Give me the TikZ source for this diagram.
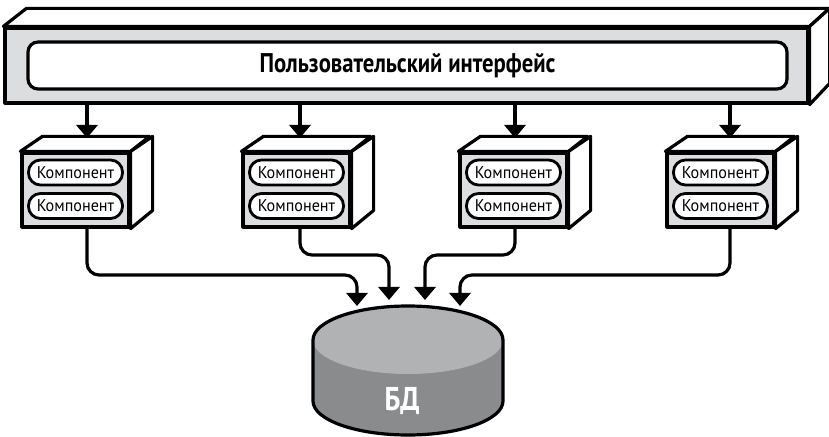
\documentclass[tikz,border=0pt]{standalone}
\usepackage{fontspec}
\newfontfamily\condfont[FakeStretch=0.84]{PT Sans}
\newfontfamily\compfont[FakeStretch=0.95]{PT Sans}
\usetikzlibrary{arrows.meta,calc}
\definecolor{facegrey}{HTML}{DCDDDF}
\definecolor{dbtop}{HTML}{B1B2B4}
\definecolor{dbbody}{HTML}{8A8B8D}
\begin{document}
\begin{tikzpicture}[x=1bp,y=-1bp,
  line join=round,
  edge/.style={line width=3.2bp},
  face/.style={draw=black,line width=3.2bp,fill=white},
  frontface/.style={draw=black,line width=3.2bp,fill=facegrey,inner sep=0pt},
  uibox/.style={draw=black,line width=3.2bp,fill=white,rounded corners=10bp,
     minimum width=759bp,minimum height=47bp,inner sep=0pt,
     font=\condfont\bfseries\fontsize{27bp}{31bp}\selectfont},
  pill/.style={draw=black,line width=2.8bp,fill=white,rounded corners=12bp,
     minimum width=94bp,minimum height=25bp,inner sep=0pt,
     font=\compfont\fontsize{17bp}{20bp}\selectfont},
  compbox/.style={frontface,minimum width=107bp,minimum height=74bp},
  arr/.style={line width=3.2bp,-{Triangle[width=21bp,length=13bp]}},
  link/.style={arr,rounded corners=12bp}
]
\useasboundingbox (0,0) rectangle (829,437);

% ---------- top bar ----------
\node[frontface,minimum width=803bp,minimum height=75bp] (bar) at (406.5,65.5) {};
\draw[face] (bar.north west) -- ++(23,-18) -- ++(803,0) -- (bar.north east) -- cycle;
\draw[face] (bar.north east) -- ++(20,-18) -- ++(0,75) -- (bar.south east) -- cycle;
\node[uibox] (ui) at (407.5,65.5) {Пользовательский интерфейс};

% ---------- component boxes ----------
\foreach \i/\L/\A in {1/22/87,2/243/300,3/460/515,4/667/730}{
  \node[compbox] (b\i) at (\L+53.5,190) {};
  \draw[face] (b\i.north west) -- ++(22,-15) -- ++(107,0) -- (b\i.north east) -- cycle;
  \draw[face] (b\i.north east) -- ++(22,-15) -- ++(0,74) -- (b\i.south east) -- cycle;
  \node[pill] (p\i a) at (\L+53.5,172.5) {Компонент};
  \node[pill] (p\i b) at (\L+53.5,206) {Компонент};
  \coordinate (t\i) at (\A,138);
  \draw[arr] (bar.south -| t\i) -- (t\i);
}

% ---------- database ----------
\fill[dbbody] (313,340) -- (313,401) arc[start angle=180,end angle=0,x radius=95,y radius=34] -- (503,340) -- cycle;
\fill[dbtop] (408,340) ellipse[x radius=95,y radius=34];
\draw[edge] (313,340) arc[start angle=180,end angle=360,x radius=95,y radius=34]
  -- (503,401) arc[start angle=0,end angle=180,x radius=95,y radius=34] -- cycle;
\node[text=white,font=\condfont\bfseries\fontsize{33bp}{37bp}\selectfont] (db) at (402,401) {БД};

% ---------- links to database ----------
\coordinate (d1) at (357,306);
\coordinate (d2) at (389,300);
\coordinate (d3) at (425,300);
\coordinate (d4) at (460,306);
\draw[link] (b1.south -| t1) -- (t1 |- 0,275) -- (d1 |- 0,275) -- (d1);
\draw[link] (b2.south -| t2) -- (t2 |- 0,255) -- (d2 |- 0,255) -- (d2);
\draw[link] (b3.south -| t3) -- (t3 |- 0,255) -- (d3 |- 0,255) -- (d3);
\draw[link] (b4.south -| t4) -- (t4 |- 0,275) -- (d4 |- 0,275) -- (d4);
\end{tikzpicture}
\end{document}
